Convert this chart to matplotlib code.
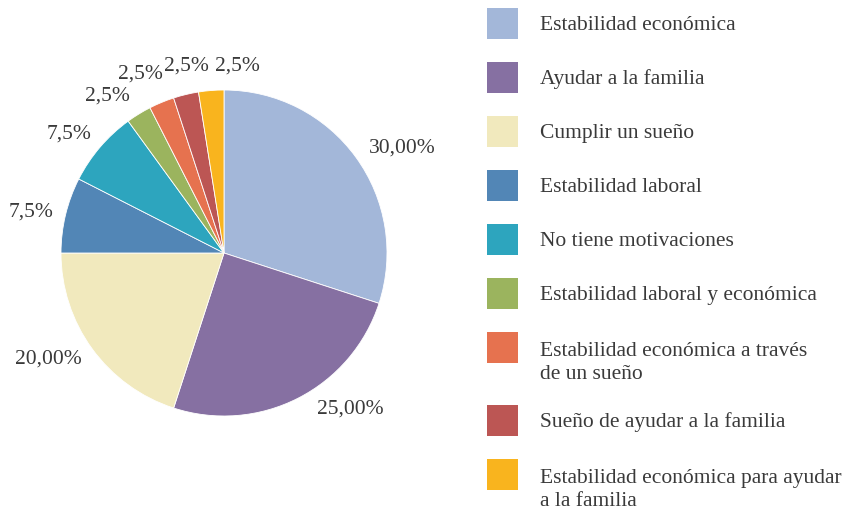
import numpy as np
import matplotlib.pyplot as plt
from matplotlib.patches import Rectangle

# data
labels = ['Estabilidad económica', 'Ayudar a la familia', 'Cumplir un sueño',
          'Estabilidad laboral', 'No tiene motivaciones', 'Estabilidad laboral y económica',
          'Estabilidad económica a través\nde un sueño', 'Sueño de ayudar a la familia',
          'Estabilidad económica para ayudar\na la familia']
values = [30, 25, 20, 7.5, 7.5, 2.5, 2.5, 2.5, 2.5]
pct_text = ['30,00%', '25,00%', '20,00%', '7,5%', '7,5%', '2,5%', '2,5%', '2,5%', '2,5%']
colors = ['#A3B7D9', '#8670A2', '#F1E9BD', '#5286B6', '#2DA5BE',
          '#9BB45E', '#E6724F', '#BC5654', '#F9B41E']

# label nudges (angle in deg, distance in radii) to match the original placement
label_shift = [-5.6, 12, -5, 1.5, 3, 5, 2.5, -2, -8.5]
label_dist = [1.27, 1.23, 1.26, 1.21, 1.20, 1.20, 1.21, 1.17, 1.15]

W, H = 849, 515
txt_color = '#3a3a3a'
font = 'Liberation Serif'
fs = 15.5
line_px = 25

fig = plt.figure(figsize=(W / 100, H / 100), dpi=100)

# legend drawn on an overlay axes in pixel units
lax = fig.add_axes([0, 0, 1, 1])
lax.set_xlim(0, W)
lax.set_ylim(H, 0)
lax.axis('off')

y = 8
for lab, col in zip(labels, colors):
    extra = lab.count('\n')
    lax.add_patch(Rectangle((487, y), 31, 31, facecolor=col, edgecolor='none'))
    # baseline anchor sits on the last line of multi-line text
    lax.text(540, y + 22 + line_px * extra, lab, va='baseline', ha='left', fontsize=fs,
             family=font, color=txt_color, linespacing=1.28)
    y += 54 + 19 * extra

# pie
ax = fig.add_axes([61 / W, (H - 416) / H, 326 / W, 326 / H])
wedges, _ = ax.pie(values, colors=colors, startangle=90, counterclock=False,
                   radius=1, wedgeprops=dict(edgecolor='white', linewidth=0.6))
ax.set_xlim(-1, 1)
ax.set_ylim(-1, 1)
ax.axis('off')

for w, t, da, r in zip(wedges, pct_text, label_shift, label_dist):
    ang = np.deg2rad((w.theta1 + w.theta2) / 2 + da)
    ax.text(r * np.cos(ang), r * np.sin(ang), t, ha='center', va='center',
            fontsize=fs, family=font, color=txt_color)

fig.savefig('out.png', dpi=100)
